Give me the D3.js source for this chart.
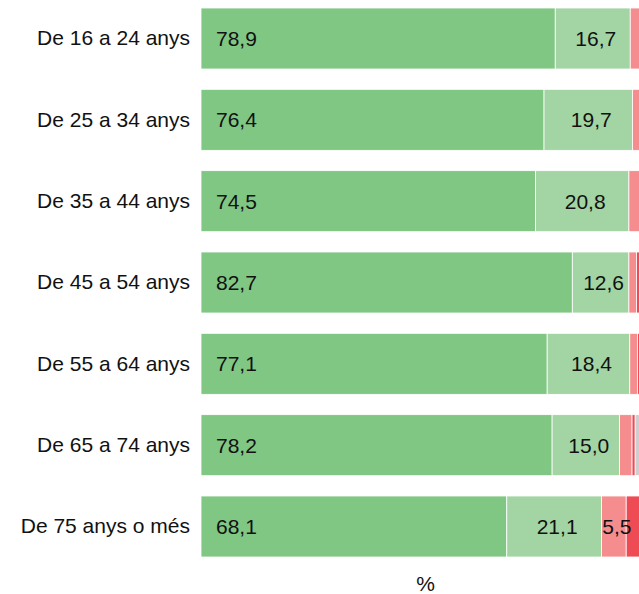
<!DOCTYPE html>
<html>
<head>
<meta charset="utf-8">
<script src="https://cdn.jsdelivr.net/npm/d3@7"></script>
<style>
  html, body { margin: 0; padding: 0; background: #fff; }
  svg { display: block; font-family: "Liberation Sans", Arial, sans-serif; }
</style>
</head>
<body>
<svg id="chart" width="639" height="594"></svg>
<script>
// Age groups (rows, top to bottom)
const categories = [
  "De 16 a 24 anys",
  "De 25 a 34 anys",
  "De 35 a 44 anys",
  "De 45 a 54 anys",
  "De 55 a 64 anys",
  "De 65 a 74 anys",
  "De 75 anys o més"
];

// Share of each answer per age group (%), stacked left to right
const veryGood = [78.9, 76.4, 74.5, 82.7, 77.1, 78.2, 68.1];
const good     = [16.7, 19.7, 20.8, 12.6, 18.4, 15.0, 21.1];
const bad      = [3.0, 2.7, 3.4, 1.7, 1.7, 2.8, 5.5];
const veryBad  = [0.9, 0.8, 0.8, 2.2, 1.9, 0.7, 3.0];
const noAnswer = [0.5, 0.4, 0.5, 0.8, 0.9, 3.3, 2.3];

const seriesKeys = ["veryGood", "good", "bad", "veryBad", "noAnswer"];
const seriesValues = { veryGood, good, bad, veryBad, noAnswer };
const colors = ["#81c784", "#a2d5a3", "#f58d8f", "#ef4b55", "#cfcfcf"];
// Only segments wide enough carry a value label
const minLabel = 5;
const fontSize = 21;

const rows = categories.map((c, i) => {
  const r = { category: c };
  seriesKeys.forEach(k => r[k] = seriesValues[k][i]);
  return r;
});

const svg = d3.select("#chart");
const x = d3.scaleLinear().domain([0, 100]).range([201, 650]);
const y = d3.scaleBand().domain(categories).range([8, 557]).paddingInner(0.25);
const color = d3.scaleOrdinal().domain(seriesKeys).range(colors);

const stacked = d3.stack().keys(seriesKeys)(rows);
const fmt = v => v.toFixed(1).replace(".", ",");

const layer = svg.append("g").selectAll("g")
  .data(stacked)
  .join("g")
  .attr("fill", d => color(d.key));

layer.selectAll("rect")
  .data(d => d)
  .join("rect")
  .attr("x", d => x(d[0]))
  .attr("y", d => y(d.data.category))
  .attr("width", d => x(d[1]) - x(d[0]))
  .attr("height", y.bandwidth())
  .attr("stroke", "#fff")
  .attr("stroke-width", 0.8);

// Value labels: first segment left-aligned, the others centred
stacked.forEach((s, si) => {
  svg.append("g").selectAll("text")
    .data(s.filter(d => d[1] - d[0] >= minLabel))
    .join("text")
    .attr("x", d => si === 0 ? x(d[0]) + 15 : (x(d[0]) + x(d[1])) / 2 + 3)
    .attr("y", d => y(d.data.category) + y.bandwidth() / 2)
    .attr("dy", "0.36em")
    .attr("text-anchor", si === 0 ? "start" : "middle")
    .attr("font-size", fontSize)
    .attr("fill", "#111")
    .text(d => fmt(d[1] - d[0]));
});

// Category axis
const yAxis = svg.append("g")
  .attr("transform", "translate(201,0)")
  .call(d3.axisLeft(y).tickSize(0).tickPadding(11));
yAxis.select(".domain").remove();
yAxis.selectAll("text")
  .attr("font-size", fontSize)
  .attr("font-family", "Liberation Sans, Arial, sans-serif")
  .attr("fill", "#111");

// Axis title
svg.append("text")
  .attr("x", (x.range()[0] + x.range()[1]) / 2)
  .attr("y", 591)
  .attr("text-anchor", "middle")
  .attr("font-size", fontSize)
  .attr("fill", "#111")
  .text("%");
</script>
</body>
</html>
